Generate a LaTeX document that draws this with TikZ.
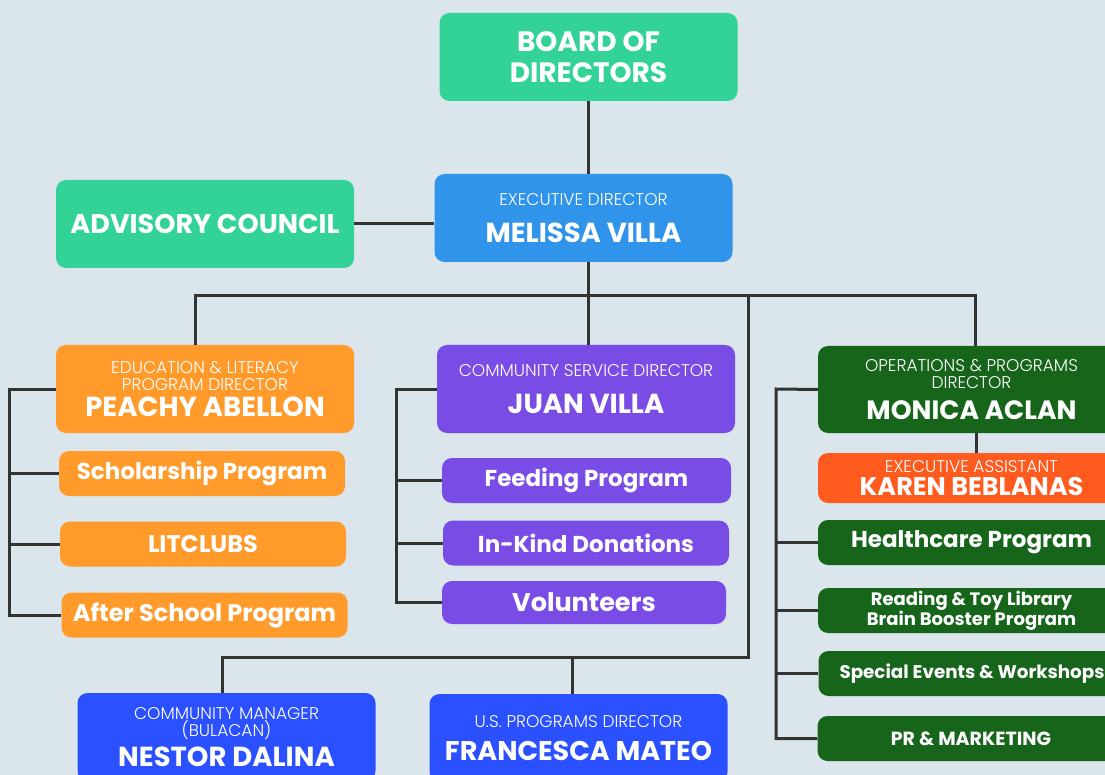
\documentclass[tikz,border=0pt]{standalone}
\usepackage{fontspec}
\setmainfont{Poppins}
\IfFontExistsTF{Poppins Light}{\newfontfamily\litefont{Poppins Light}}{\newfontfamily\litefont{Poppins}}
\definecolor{bgcol}{HTML}{DAE5EC}
\definecolor{wirecol}{HTML}{333333}
\definecolor{mint}{HTML}{33D398}
\definecolor{sky}{HTML}{3094EA}
\definecolor{tangerine}{HTML}{FF9A2B}
\definecolor{grape}{HTML}{7A4CE6}
\definecolor{forest}{HTML}{16651B}
\definecolor{flame}{HTML}{FF5B1F}
\definecolor{royal}{HTML}{2A50FF}
\newcommand{\role}[1]{{\litefont\fontsize{17}{17}\selectfont #1}}
\newcommand{\who}[2][27.5]{{\bfseries\fontsize{#1}{30}\selectfont #2}}

\begin{document}
\begin{tikzpicture}[x=1pt, y=-1pt,
    card/.style={rounded corners=10pt, text=white, align=center, inner sep=0pt,
      font=\fontsize{17}{17}\selectfont},
    big/.style={card, minimum width=298pt, minimum height=88pt},
    wide/.style={minimum width=307pt},
    slim/.style={card, minimum width=286pt, minimum height=45pt,
      font=\bfseries\fontsize{23}{24}\selectfont},
    wire/.style={draw=wirecol, line width=3pt}
  ]
  \useasboundingbox (0,0) rectangle (1105,775);
  \clip (0,0) rectangle (1105,775);
  \fill[bgcol] (0,0) rectangle (1105,775);

  \node[big, fill=mint, font=\bfseries\fontsize{28}{31}\selectfont] (board) at (588.5,57) {BOARD OF\\DIRECTORS};
  \node[big, fill=mint, font=\bfseries\fontsize{27}{31}\selectfont] (advisory) at (205,224) {ADVISORY COUNCIL};
  \node[big, fill=sky] (exec) at (583.5,218) {\role{EXECUTIVE DIRECTOR}\\[17pt]\who{MELISSA VILLA}};

  \node[big, fill=tangerine] (peachy) at (205,389) {\role{EDUCATION \& LITERACY}\\\role{PROGRAM DIRECTOR}\\[6pt]\who{PEACHY ABELLON}};
  \node[slim, fill=tangerine] (scholar) at (202,473.5) {Scholarship Program};
  \node[slim, fill=tangerine, font=\bfseries\fontsize{24}{24}\selectfont] (litclubs) at (203,544) {LITCLUBS};
  \node[slim, fill=tangerine, font=\bfseries\fontsize{24}{24}\selectfont] (after) at (204.5,615) {After School Program};

  \node[big, fill=grape] (juan) at (586,389) {\role{COMMUNITY SERVICE DIRECTOR}\\[16pt]\who{JUAN VILLA}};
  \node[slim, fill=grape, minimum width=289pt] (feeding) at (586.5,480.5) {Feeding Program};
  \node[slim, fill=grape] (inkind) at (586,543) {In-Kind Donations};
  \node[slim, fill=grape, minimum width=284pt, minimum height=43pt, font=\bfseries\fontsize{25.5}{26}\selectfont] (volunteers) at (584,602.5) {Volunteers};

  \node[card, wide, fill=forest, minimum height=87pt] (monica) at (971.5,389.5) {\role{OPERATIONS \& PROGRAMS}\\\role{DIRECTOR}\\[11pt]\who[26.5]{MONICA ACLAN}};
  \node[card, wide, fill=flame, minimum height=50pt] (karen) at (971.5,478) {\role{EXECUTIVE ASSISTANT}\\[3pt]\who[25.5]{KAREN BEBLANAS}};
  \node[slim, wide, fill=forest] (health) at (971.5,542.5) {Healthcare Program};
  \node[slim, wide, fill=forest, font=\bfseries\fontsize{18}{20}\selectfont] (reading) at (971.5,610.5) {Reading \& Toy Library\\Brain Booster Program};
  \node[slim, wide, fill=forest, font=\bfseries\fontsize{18.3}{20}\selectfont] (special) at (972,673.5) {Special Events \& Workshops};
  \node[slim, wide, fill=forest, font=\bfseries\fontsize{19}{20}\selectfont] (pr) at (971,738.5) {PR \& MARKETING};

  \node[big, fill=royal] (nestor) at (226.5,737) {\role{COMMUNITY MANAGER}\\\role{(BULACAN)}\\[6pt]\who{NESTOR DALINA}};
  \node[big, fill=royal] (francesca) at (578.5,738) {\role{U.S. PROGRAMS DIRECTOR}\\[13pt]\who[27]{FRANCESCA MATEO}};

  \coordinate (bus) at (588,296);
  \coordinate (drop) at (748,657);
  \coordinate (eduRail) at (9,389);
  \coordinate (csRail) at (396,389);
  \coordinate (opsRail) at (776,389);

  \draw[wire] (board.south) -- (board.south |- exec.north);
  \draw[wire] (advisory.east) -- (advisory.east -| exec.west);
  \draw[wire] (exec.south -| bus) -- (bus);
  \draw[wire] ([xshift=-10pt]peachy.north) |- (bus) -| ([xshift=4pt]monica.north);
  \draw[wire] (bus) -- (bus |- juan.north);
  \draw[wire] (bus -| drop) -- (drop) -| ([xshift=-4pt]nestor.north);
  \draw[wire] ([xshift=-6pt]francesca.north) -- ([xshift=-6pt]francesca.north |- drop);
  \draw[wire] ([xshift=5pt]monica.south) -- ([xshift=5pt]karen.north);

  \draw[wire] (peachy.west) -- (eduRail) |- (after.west);
  \foreach \n in {scholar,litclubs}
    \draw[wire] (\n.west) -- (\n.west -| eduRail);
  \draw[wire] (juan.west) -- (csRail) |- (volunteers.west);
  \foreach \n in {feeding,inkind}
    \draw[wire] (\n.west) -- (\n.west -| csRail);
  \draw[wire] (monica.west) -- (opsRail) |- (pr.west);
  \foreach \n in {health,reading,special}
    \draw[wire] (\n.west) -- (\n.west -| opsRail);
\end{tikzpicture}
\end{document}
